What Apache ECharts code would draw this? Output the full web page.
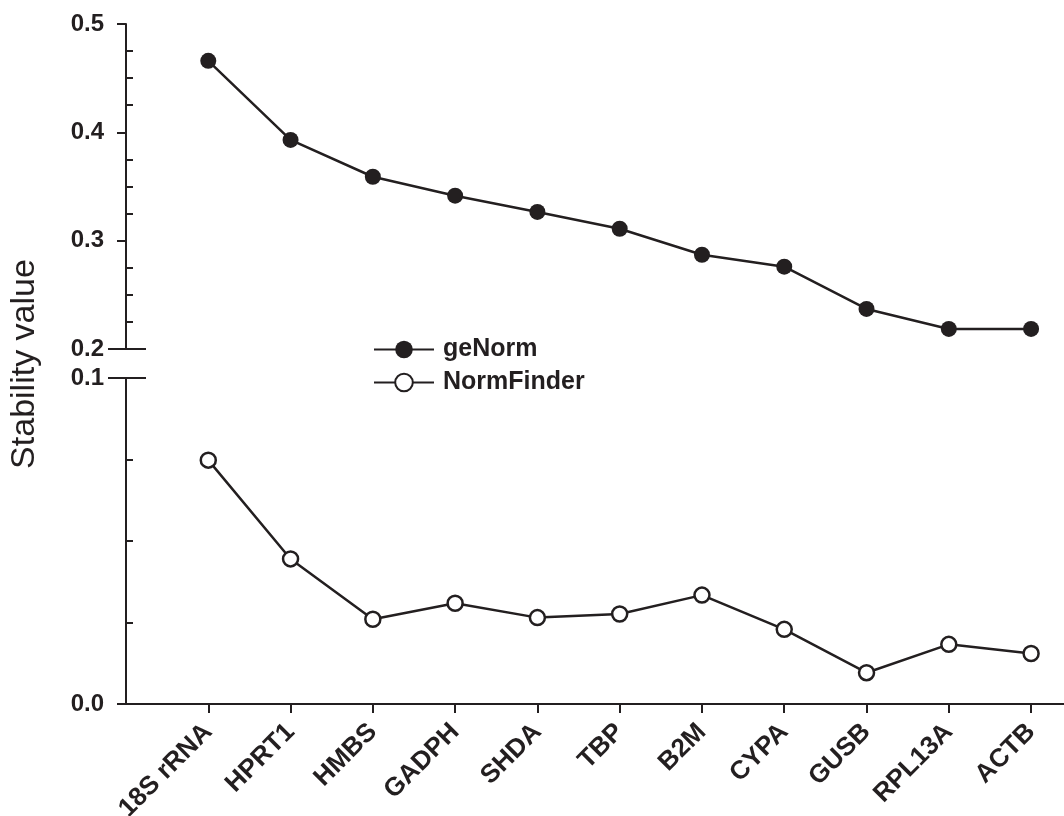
<!DOCTYPE html>
<html>
<head>
<meta charset="utf-8">
<script src="https://cdn.jsdelivr.net/npm/echarts@6/dist/echarts.min.js"></script>
<style>html,body{margin:0;padding:0;background:#fff;}#c{width:1064px;height:816px;}</style>
</head>
<body>
<div id="c"></div>
<script>
const categories = ['18S rRNA','HPRT1','HMBS','GADPH','SHDA','TBP','B2M','CYPA','GUSB','RPL13A','ACTB'];
const geNorm = [0.466,0.393,0.359,0.3415,0.3265,0.311,0.287,0.276,0.237,0.2185,0.2185];
const normFinder = [0.0748,0.0445,0.026,0.0309,0.0265,0.0276,0.0334,0.0229,0.0096,0.0183,0.0155];
const upperTicks = [0.2,0.3,0.4,0.5];
const lowerTicks = [0.0,0.1];

const INK = '#231f20';
const FONT = 'Liberation Sans, Arial, sans-serif';
const idx = categories.map((c,i)=>i);

const chart = echarts.init(document.getElementById('c'));
const xBase = {min:-1, max:10.4, interval:1, splitLine:{show:false}};
const yMainCommon = {
  type:'value', position:'left', splitLine:{show:false},
  axisLine:{show:true, onZero:false, lineStyle:{color:INK, width:2}},
  axisTick:{show:true, length:9, lineStyle:{color:INK, width:2}},
  minorTick:{show:true, splitNumber:4, length:-7, lineStyle:{color:INK, width:2}},
  axisLabel:{color:INK, fontFamily:FONT, fontWeight:'bold', fontSize:24, margin:22, formatter:v=>v.toFixed(1)}
};
const yBreakCommon = {
  type:'value', position:'left', offset:-20, splitLine:{show:false},
  axisLine:{show:false, onZero:false}, axisLabel:{show:false},
  axisTick:{show:true, length:38, lineStyle:{color:INK, width:2}}
};
chart.setOption({
  animation:false,
  backgroundColor:'#fff',
  grid:[
    {left:126, top:24, height:325, right:0, containLabel:false, outerBoundsMode:'none'},
    {left:126, top:378, height:326, right:0, containLabel:false, outerBoundsMode:'none'},
    {left:126, top:24, bottom:112, right:0, containLabel:false, outerBoundsMode:'none'}
  ],
  legend:{
    orient:'vertical', left:368, top:332, itemWidth:60, itemHeight:22, itemGap:8,
    data:['geNorm','NormFinder'],
    textStyle:{color:INK, fontFamily:FONT, fontWeight:'bold', fontSize:25, padding:[0,0,0,4]}
  },
  xAxis:[
    Object.assign({type:'value', gridIndex:0, show:false}, xBase),
    Object.assign({type:'value', gridIndex:1,
      axisLine:{show:true, onZero:false, lineStyle:{color:INK, width:2}},
      axisTick:{show:true, length:9, customValues:idx, lineStyle:{color:INK, width:2}},
      axisLabel:{customValues:idx, rotate:45, margin:24, color:INK, fontFamily:FONT, fontWeight:'bold', fontSize:26,
        formatter:v=>categories[Math.round(v)] || ''}
    }, xBase),
    Object.assign({type:'value', gridIndex:2, show:false}, xBase)
  ],
  yAxis:[
    Object.assign({}, yMainCommon, {gridIndex:0, min:upperTicks[0], max:upperTicks[upperTicks.length-1], interval:0.1}),
    Object.assign({}, yBreakCommon, {gridIndex:0, min:upperTicks[0], max:upperTicks[upperTicks.length-1], interval:0.1,
      axisTick:Object.assign({}, yBreakCommon.axisTick, {customValues:[upperTicks[0]]})}),
    Object.assign({}, yMainCommon, {gridIndex:1, min:lowerTicks[0], max:lowerTicks[lowerTicks.length-1], interval:0.1}),
    Object.assign({}, yBreakCommon, {gridIndex:1, min:lowerTicks[0], max:lowerTicks[lowerTicks.length-1], interval:0.1,
      axisTick:Object.assign({}, yBreakCommon.axisTick, {customValues:[lowerTicks[lowerTicks.length-1]]})}),
    {type:'value', gridIndex:2, position:'left', min:0, max:1, name:'Stability value', nameLocation:'middle', nameRotate:90, nameGap:84,
      nameTextStyle:{color:INK, fontFamily:FONT, fontSize:34},
      axisLine:{show:false, onZero:false}, axisTick:{show:false}, axisLabel:{show:false}, splitLine:{show:false}}
  ],
  series:[
    {name:'geNorm', type:'line', xAxisIndex:0, yAxisIndex:0,
      data:geNorm.map((v,i)=>[i,v]),
      symbol:'circle', symbolSize:16,
      lineStyle:{color:INK, width:2.5},
      itemStyle:{color:INK, borderColor:INK, borderWidth:0}},
    {name:'NormFinder', type:'line', xAxisIndex:1, yAxisIndex:2,
      data:normFinder.map((v,i)=>[i,v]),
      symbol:'circle', symbolSize:15,
      lineStyle:{color:INK, width:2.5},
      itemStyle:{color:'#fff', borderColor:INK, borderWidth:2.5}}
  ]
});
</script>
</body>
</html>
